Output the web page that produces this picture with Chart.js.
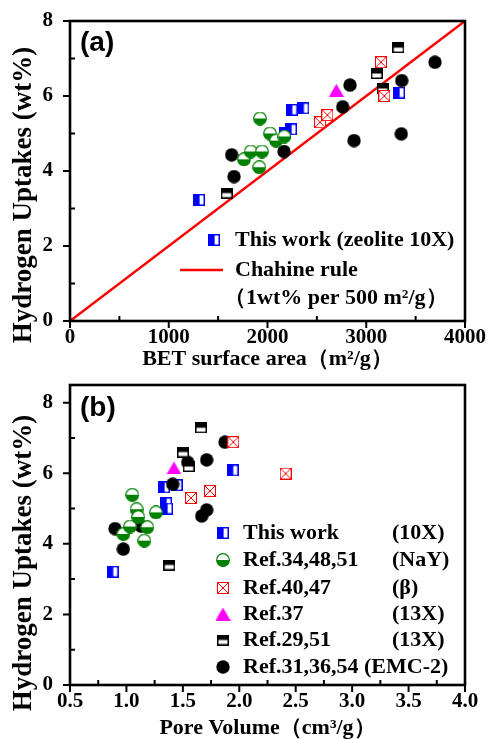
<!DOCTYPE html>
<html>
<head>
<meta charset="utf-8">
<script src="https://cdn.jsdelivr.net/npm/chart.js@4.4.1/dist/chart.umd.min.js"></script>
<style>
  html, body { margin: 0; padding: 0; background: #fff; }
  #wrap { position: relative; width: 488px; height: 739px; }
  canvas { position: absolute; left: 0; }
  #chartA { top: 0; }
  #chartB { top: 370px; }
</style>
</head>
<body>
<div id="wrap">
  <canvas id="chartA" width="488" height="370"></canvas>
  <canvas id="chartB" width="488" height="369"></canvas>
</div>
<script>
// (a) BET surface area (m2/g) vs hydrogen uptake (wt%)
const workBet = [1306, 2177, 2238, 2245, 2363, 3332];
const workUptA = [3.23, 5.02, 5.11, 5.63, 5.67, 6.09];
const nayBet = [1762, 1830, 1917, 1924, 1944, 2025, 2086, 2170];
const nayUptA = [4.31, 4.52, 4.10, 5.40, 4.52, 5.00, 4.81, 4.92];
const betaBet = [2532, 2606, 3149, 3183];
const betaUptA = [5.30, 5.49, 6.90, 6.00];
const ref37Bet = [2697];
const ref37UptA = [6.15];
const x13Bet = [1587, 3106, 3166, 3325];
const x13UptA = [3.41, 6.60, 6.20, 7.29];
const emcBet = [1637, 1661, 2167, 2761, 2835, 2876, 3355, 3359, 3696];
const emcUptA = [4.43, 3.85, 4.52, 5.71, 6.29, 4.81, 4.99, 6.41, 6.90];
const chahineBet = [0, 4000];
const chahineUpt = [0, 8];

// (b) pore volume (cm3/g) vs hydrogen uptake (wt%)
const workPore = [0.878, 1.333, 1.351, 1.360, 1.445, 1.941];
const workUptB = [3.21, 5.60, 5.15, 5.00, 5.66, 6.08];
const nayPore = [0.973, 1.032, 1.052, 1.090, 1.105, 1.158, 1.185, 1.262];
const nayUptB = [4.28, 4.49, 5.39, 4.98, 4.76, 4.09, 4.47, 4.89];
const betaPore = [1.572, 1.740, 1.947, 2.411];
const betaUptB = [5.30, 5.50, 6.88, 5.99];
const ref37Pore = [1.421];
const ref37UptB = [6.15];
const x13Pore = [1.380, 1.501, 1.552, 1.661];
const x13UptB = [3.40, 6.60, 6.19, 7.29];
const emcPore = [0.899, 0.972, 1.130, 1.410, 1.543, 1.667, 1.711, 1.711, 1.873];
const emcUptB = [4.43, 3.85, 4.50, 5.69, 6.31, 4.79, 4.96, 6.38, 6.88];

const serif = '"Liberation Serif", "Times New Roman", serif';

function pts(xs, ys) {
  return xs.map((x, i) => ({ x: x, y: ys[i] }));
}

// little canvases used as point styles
function marker(w, h, paint) {
  const c = document.createElement('canvas');
  c.width = w;
  c.height = h;
  paint(c.getContext('2d'), w, h);
  return c;
}

const mBlue = marker(12, 12, (g, w, h) => {
  g.fillStyle = '#fff'; g.fillRect(0, 0, w, h);
  g.fillStyle = '#0000ff'; g.fillRect(0, 0, w * 0.55, h);
  g.strokeStyle = '#0000ff'; g.lineWidth = 1.5;
  g.strokeRect(0.75, 0.75, w - 1.5, h - 1.5);
});
const mGreen = marker(14, 14, (g, w, h) => {
  g.fillStyle = '#fff';
  g.beginPath(); g.arc(7, 7, 6.3, 0, Math.PI * 2); g.fill();
  g.fillStyle = '#008000';
  g.beginPath(); g.arc(7, 7, 6.3, 0, Math.PI); g.closePath(); g.fill();
  g.strokeStyle = '#008000'; g.lineWidth = 1.2;
  g.beginPath(); g.arc(7, 7, 6.3, 0, Math.PI * 2); g.stroke();
});
const mRed = marker(12, 12, (g, w, h) => {
  g.fillStyle = '#fff'; g.fillRect(0, 0, w, h);
  g.strokeStyle = '#ff0000'; g.lineWidth = 1;
  g.strokeRect(0.5, 0.5, w - 1, h - 1);
  g.beginPath();
  g.moveTo(1, 1); g.lineTo(w - 1, h - 1);
  g.moveTo(w - 1, 1); g.lineTo(1, h - 1);
  g.stroke();
});
const mTri = marker(15, 13, (g, w, h) => {
  g.fillStyle = '#ff00ff';
  g.beginPath(); g.moveTo(w / 2, 0); g.lineTo(w, h); g.lineTo(0, h); g.closePath(); g.fill();
});
const mHalf = marker(12, 11, (g, w, h) => {
  g.fillStyle = '#fff'; g.fillRect(0, 0, w, h);
  g.fillStyle = '#000'; g.fillRect(0, 0, w, h * 0.5);
  g.strokeStyle = '#000'; g.lineWidth = 1.5;
  g.strokeRect(0.75, 0.75, w - 1.5, h - 1.5);
});
const mDot = marker(14, 14, (g) => {
  g.fillStyle = '#000';
  g.beginPath(); g.arc(7, 7, 6.7, 0, Math.PI * 2); g.fill();
});

function scatterSet(data, style, order) {
  return { data: data, pointStyle: style, pointRadius: 7, order: order, showLine: false };
}

// frame round the plot and ticks: labelled ones out, minor ones in
const frame = {
  id: 'frame',
  afterDatasetsDraw(chart) {
    const { ctx, chartArea: a, scales } = chart;
    ctx.save();
    ctx.strokeStyle = '#000';
    ctx.lineWidth = 2.6;
    ctx.strokeRect(a.left, a.top, a.right - a.left, a.bottom - a.top);
    ctx.lineWidth = 2;
    ctx.beginPath();
    scales.x.ticks.forEach(t => {
      const p = scales.x.getPixelForValue(t.value);
      ctx.moveTo(p, a.bottom);
      ctx.lineTo(p, t.label !== '' ? a.bottom + 7 : a.bottom - 5);
    });
    scales.y.ticks.forEach(t => {
      const p = scales.y.getPixelForValue(t.value);
      ctx.moveTo(a.left, p);
      ctx.lineTo(t.label !== '' ? a.left - 7 : a.left + 5, p);
    });
    ctx.stroke();
    ctx.restore();
  }
};

// panel letter, y title and the legend box inside the plot
const decor = {
  id: 'decor',
  afterDraw(chart, args, o) {
    const ctx = chart.ctx;
    ctx.save();
    ctx.fillStyle = '#000';
    ctx.textBaseline = 'middle';
    ctx.textAlign = 'left';
    ctx.font = 'bold 28px "Liberation Sans", Arial, sans-serif';
    ctx.fillText(o.panel, 80, o.panelY);

    ctx.save();
    ctx.translate(24, o.yTitleY);
    ctx.rotate(-Math.PI / 2);
    ctx.textAlign = 'center';
    ctx.font = 'bold 27px ' + serif;
    ctx.fillText(o.yTitle, 0, 0);
    ctx.restore();

    ctx.font = 'bold 22px ' + serif;
    o.rows.forEach(r => {
      if (r.line) {
        ctx.strokeStyle = '#ff0000';
        ctx.lineWidth = 2.5;
        ctx.beginPath();
        ctx.moveTo(r.line[0], r.y);
        ctx.lineTo(r.line[1], r.y);
        ctx.stroke();
      }
      if (r.m) {
        ctx.drawImage(r.m, r.mx - r.m.width / 2, r.y - r.m.height / 2);
      }
      ctx.fillText(r.text, r.tx, r.y);
      if (r.text2) ctx.fillText(r.text2, r.tx2, r.y);
    });
    ctx.restore();
  }
};

function makeChart(id, o) {
  return new Chart(document.getElementById(id), {
    type: 'scatter',
    data: { datasets: o.datasets },
    options: {
      responsive: false,
      animation: false,
      devicePixelRatio: 1,
      layout: { padding: { top: o.top, right: 23, bottom: 0, left: 0 } },
      plugins: {
        legend: { display: false },
        tooltip: { enabled: false },
        decor: o.decor
      },
      scales: {
        x: {
          type: 'linear', min: o.xMin, max: o.xMax,
          grid: { display: false, drawTicks: true, tickLength: 4 },
          border: { display: false },
          ticks: {
            stepSize: o.xStep, autoSkip: false, maxRotation: 0, padding: 0,
            color: '#000', font: { family: serif, weight: 'bold', size: 21 },
            callback: o.xLabel
          },
          title: {
            display: true, text: o.xTitle, color: '#000',
            font: { family: serif, weight: 'bold', size: 22, lineHeight: 1 },
            padding: { top: o.xTitlePad, bottom: 0 }
          },
          afterFit: s => { s.height = o.xHeight; }
        },
        y: {
          type: 'linear', min: 0, max: o.yMax,
          grid: { display: false, drawTicks: true, tickLength: 17 },
          border: { display: false },
          ticks: {
            stepSize: 1, autoSkip: false, includeBounds: false, padding: 0,
            color: '#000', font: { family: serif, weight: 'bold', size: 21 },
            callback: v => (v % 2 === 0 ? String(v) : '')
          },
          afterFit: s => { s.width = 70; }
        }
      }
    },
    plugins: [frame, decor]
  });
}

makeChart('chartA', {
  top: 21, xHeight: 49, xTitlePad: 11,
  xMin: 0, xMax: 4000, xStep: 500, yMax: 8,
  xLabel: v => (v % 1000 === 0 ? String(v) : ''),
  xTitle: 'BET surface area\uFF08m\u00B2/g\uFF09',
  datasets: [
    { type: 'line', data: pts(chahineBet, chahineUpt), borderColor: '#ff0000', borderWidth: 2.5,
      pointRadius: 0, fill: false, order: 7 },
    scatterSet(pts(workBet, workUptA), mBlue, 6),
    scatterSet(pts(emcBet, emcUptA), mDot, 5),
    scatterSet(pts(x13Bet, x13UptA), mHalf, 4),
    scatterSet(pts(nayBet, nayUptA), mGreen, 3),
    scatterSet(pts(betaBet, betaUptA), mRed, 2),
    scatterSet(pts(ref37Bet, ref37UptA), mTri, 1)
  ],
  decor: {
    panel: '(a)', panelY: 43,
    yTitle: 'Hydrogen Uptakes (wt%)', yTitleY: 195,
    rows: [
      { m: mBlue, mx: 214, y: 240, text: 'This work (zeolite 10X)', tx: 235 },
      { line: [180, 223], y: 270, text: 'Chahine rule', tx: 235 },
      { y: 298, text: '\uFF081wt% per 500 m\u00B2/g\uFF09', tx: 224 }
    ]
  }
});

makeChart('chartB', {
  top: 15, xHeight: 54, xTitlePad: 0,
  xMin: 0.5, xMax: 4, xStep: 0.25, yMax: 8.5,
  xLabel: v => (Math.abs(v * 2 - Math.round(v * 2)) < 1e-6 ? v.toFixed(1) : ''),
  xTitle: 'Pore Volume\uFF08cm\u00B3/g\uFF09',
  datasets: [
    scatterSet(pts(workPore, workUptB), mBlue, 6),
    scatterSet(pts(emcPore, emcUptB), mDot, 5),
    scatterSet(pts(x13Pore, x13UptB), mHalf, 4),
    scatterSet(pts(nayPore, nayUptB), mGreen, 3),
    scatterSet(pts(betaPore, betaUptB), mRed, 2),
    scatterSet(pts(ref37Pore, ref37UptB), mTri, 1)
  ],
  decor: {
    panel: '(b)', panelY: 38,
    yTitle: 'Hydrogen Uptakes (wt%)', yTitleY: 193,
    rows: [
      { m: mBlue, mx: 223, y: 163, text: 'This work', tx: 243, text2: '(10X)', tx2: 392 },
      { m: mGreen, mx: 223, y: 190, text: 'Ref.34,48,51', tx: 243, text2: '(NaY)', tx2: 392 },
      { m: mRed, mx: 223, y: 218, text: 'Ref.40,47', tx: 243, text2: '(\u03B2)', tx2: 392 },
      { m: mTri, mx: 223, y: 244, text: 'Ref.37', tx: 243, text2: '(13X)', tx2: 392 },
      { m: mHalf, mx: 223, y: 270, text: 'Ref.29,51', tx: 243, text2: '(13X)', tx2: 392 },
      { m: mDot, mx: 223, y: 297, text: 'Ref.31,36,54 (EMC-2)', tx: 243 }
    ]
  }
});
</script>
</body>
</html>
